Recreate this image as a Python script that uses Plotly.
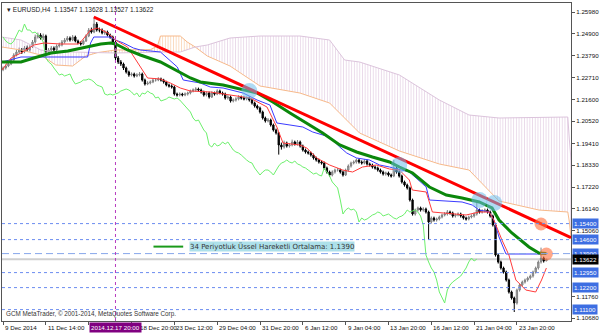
import plotly.graph_objects as go

# ---------------- data (EURUSD H4) ----------------
close = [1.2318,1.2328,1.2338,1.2358,1.2383,1.2398,1.2408,1.2398,1.2418,1.2408,
1.2423,1.2448,1.2473,1.2483,1.2468,1.2478,1.2398,1.2408,1.2418,1.2408,
1.2428,1.2433,1.2448,1.2458,1.2468,1.2458,1.2473,1.2453,1.2443,1.2438,
1.2453,1.2478,1.2508,1.2498,1.2538,1.2508,1.2508,1.2493,1.2498,1.2483,
1.2473,1.2448,1.2368,1.2348,1.2338,1.2318,1.2298,1.2283,1.2288,1.2278,
1.2283,1.2288,1.2258,1.2238,1.2243,1.2248,1.2258,1.2258,1.2263,1.2258,
1.2248,1.2233,1.2228,1.2223,1.2188,1.2183,1.2188,1.2183,1.2188,1.2193,
1.2203,1.2208,1.2213,1.2208,1.2198,1.2183,1.2193,1.2173,1.2193,1.2188,
1.2203,1.2193,1.2188,1.2168,1.2173,1.2153,1.2158,1.2163,1.2173,1.2168,
1.2163,1.2168,1.2158,1.2143,1.2128,1.2118,1.2098,1.2068,1.2053,1.2058,
1.2033,1.2008,1.1993,1.1933,1.1923,1.1943,1.1928,1.1933,1.1948,1.1938,
1.1948,1.1928,1.1908,1.1898,1.1893,1.1883,1.1868,1.1858,1.1848,1.1843,
1.1818,1.1798,1.1783,1.1798,1.1808,1.1808,1.1798,1.1783,1.1808,1.1828,
1.1843,1.1848,1.1858,1.1848,1.1843,1.1853,1.1838,1.1833,1.1823,1.1818,
1.1808,1.1798,1.1788,1.1793,1.1783,1.1778,1.1818,1.1798,1.1778,1.1748,
1.1733,1.1718,1.1658,1.1588,1.1608,1.1618,1.1608,1.1613,1.1598,1.1548,
1.1568,1.1558,1.1563,1.1573,1.1583,1.1588,1.1598,1.1593,1.1578,1.1583,
1.1588,1.1578,1.1568,1.1563,1.1573,1.1578,1.1588,1.1608,1.1598,1.1603,
1.1608,1.1598,1.1578,1.1533,1.1383,1.1348,1.1318,1.1298,1.1258,1.1198,
1.1168,1.1143,1.1208,1.1233,1.1248,1.1258,1.1268,1.1278,1.1298,1.1318,
1.1348,1.1368,1.1353,1.13622]

high = [1.2326,1.2336,1.2346,1.2366,1.2392,1.2410,1.2420,1.2418,1.2428,1.2430,
1.2432,1.2458,1.2485,1.2495,1.2492,1.2490,1.2485,1.2418,1.2428,1.2426,
1.2436,1.2445,1.2458,1.2468,1.2478,1.2476,1.2483,1.2480,1.2460,1.2452,
1.2460,1.2486,1.2518,1.2520,1.2570,1.2548,1.2520,1.2516,1.2508,1.2505,
1.2490,1.2480,1.2456,1.2378,1.2358,1.2345,1.2325,1.2305,1.2296,1.2295,
1.2292,1.2298,1.2295,1.2265,1.2252,1.2256,1.2266,1.2268,1.2272,1.2270,
1.2264,1.2254,1.2240,1.2236,1.2230,1.2195,1.2196,1.2194,1.2196,1.2200,
1.2210,1.2216,1.2222,1.2220,1.2215,1.2205,1.2200,1.2200,1.2202,1.2200,
1.2212,1.2210,1.2200,1.2195,1.2182,1.2180,1.2166,1.2172,1.2182,1.2180,
1.2176,1.2176,1.2175,1.2165,1.2150,1.2135,1.2125,1.2105,1.2075,1.2068,
1.2065,1.2040,1.2015,1.1998,1.1945,1.1955,1.1950,1.1942,1.1960,1.1955,
1.1958,1.1955,1.1935,1.1915,1.1905,1.1900,1.1890,1.1875,1.1865,1.1856,
1.1850,1.1825,1.1805,1.1806,1.1815,1.1818,1.1815,1.1805,1.1815,1.1836,
1.1850,1.1856,1.1866,1.1865,1.1856,1.1862,1.1860,1.1845,1.1840,1.1830,
1.1825,1.1815,1.1805,1.1800,1.1800,1.1790,1.1858,1.1825,1.1805,1.1785,
1.1755,1.1740,1.1725,1.1665,1.1615,1.1625,1.1625,1.1622,1.1620,1.1605,
1.1576,1.1575,1.1570,1.1580,1.1590,1.1598,1.1608,1.1605,1.1600,1.1590,
1.1596,1.1595,1.1585,1.1575,1.1580,1.1586,1.1596,1.1648,1.1615,1.1612,
1.1616,1.1615,1.1605,1.1585,1.1540,1.1390,1.1355,1.1325,1.1305,1.1265,
1.1205,1.1175,1.1215,1.1240,1.1255,1.1265,1.1275,1.1285,1.1305,1.1325,
1.1356,1.1420,1.1375,1.13628]

low = [1.2302,1.2310,1.2322,1.2332,1.2350,1.2376,1.2390,1.2388,1.2392,1.2400,
1.2400,1.2418,1.2440,1.2465,1.2460,1.2458,1.2390,1.2388,1.2400,1.2398,
1.2402,1.2420,1.2426,1.2440,1.2450,1.2450,1.2452,1.2446,1.2436,1.2430,
1.2432,1.2448,1.2472,1.2490,1.2492,1.2500,1.2496,1.2486,1.2484,1.2476,
1.2464,1.2440,1.2355,1.2338,1.2328,1.2308,1.2290,1.2274,1.2276,1.2270,
1.2272,1.2276,1.2250,1.2230,1.2232,1.2236,1.2242,1.2250,1.2252,1.2250,
1.2240,1.2226,1.2220,1.2215,1.2180,1.2175,1.2176,1.2176,1.2177,1.2180,
1.2186,1.2196,1.2200,1.2200,1.2190,1.2175,1.2176,1.2165,1.2168,1.2180,
1.2182,1.2186,1.2180,1.2160,1.2160,1.2145,1.2146,1.2150,1.2156,1.2160,
1.2156,1.2156,1.2150,1.2135,1.2120,1.2110,1.2090,1.2060,1.2045,1.2046,
1.2025,1.2000,1.1985,1.1885,1.1910,1.1915,1.1920,1.1920,1.1926,1.1930,
1.1930,1.1920,1.1900,1.1890,1.1885,1.1875,1.1860,1.1850,1.1840,1.1835,
1.1810,1.1790,1.1775,1.1776,1.1790,1.1800,1.1790,1.1775,1.1778,1.1800,
1.1820,1.1836,1.1840,1.1840,1.1835,1.1836,1.1830,1.1825,1.1815,1.1810,
1.1800,1.1790,1.1780,1.1780,1.1775,1.1770,1.1772,1.1790,1.1770,1.1740,
1.1725,1.1710,1.1650,1.1580,1.1580,1.1600,1.1600,1.1600,1.1590,1.1460,
1.1540,1.1550,1.1550,1.1556,1.1566,1.1576,1.1580,1.1585,1.1570,1.1570,
1.1576,1.1570,1.1560,1.1555,1.1556,1.1566,1.1570,1.1580,1.1590,1.1590,
1.1596,1.1590,1.1570,1.1525,1.1375,1.1340,1.1310,1.1290,1.1250,1.1190,
1.1160,1.1098,1.1135,1.1200,1.1226,1.1240,1.1250,1.1260,1.1270,1.1290,
1.1310,1.1340,1.1345,1.13527]

first_open = 1.2310
bars = list(range(len(close)))
opens = [first_open] + close[:-1]

# 34 EMA
ema_bar = [-0.4, 6.7, 11.5, 17.9, 24.2, 30.1, 36.5, 40.2, 42, 46.5, 51.3, 58.8, 66.2, 70, 73.7,
           82.2, 94.9, 100.8, 107.2, 113.5, 119.4, 125.8, 132.1, 138, 144.4, 148.1, 153, 159.3,
           165.6, 171.5, 177.9, 182.7, 185.3, 190.1, 196.5, 200.2, 203]
ema_val = [1.2348, 1.2348, 1.2368, 1.2393, 1.2403, 1.2418, 1.2438, 1.2443, 1.2438, 1.2408, 1.2383,
           1.2348, 1.2293, 1.2268, 1.2248, 1.2233, 1.2193, 1.2148, 1.2093, 1.2043, 1.1993, 1.1933,
           1.1898, 1.1873, 1.1848, 1.1823, 1.1793, 1.1723, 1.1683, 1.1668, 1.1648, 1.1618, 1.1558,
           1.1493, 1.1423, 1.1393, 1.1390]

# Ichimoku Tenkan-sen
tenkan_bar = [-0.4, 3.0, 6.7, 11.5, 15.3, 21.6, 27.9, 29.0, 32.7, 35.3, 39.1, 42.0, 46.5, 50.2, 54.0,
              58.8, 62.5, 66.2, 70.0, 77.4, 84.8, 92.3, 98.6, 102.3, 104.6, 110.9, 113.5, 117.2,
              122.0, 126.9, 130.6, 134.3, 139.5, 144.4, 148.1, 151.8, 152.9, 158.1, 160.4, 165.6,
              173.0, 177.9, 181.6, 183.4, 186.4, 189.0, 191.6, 195.3, 199.0, 201.2, 203]
tenkan_val = [1.2308, 1.2368, 1.2393, 1.2433, 1.2443, 1.2438, 1.2438, 1.2448, 1.2508, 1.2518, 1.2493,
              1.2458, 1.2423, 1.2343, 1.2268, 1.2263, 1.2243, 1.2218, 1.2203, 1.2198, 1.2183, 1.2168,
              1.2123, 1.2023, 1.1943, 1.1933, 1.1918, 1.1868, 1.1833, 1.1808, 1.1798, 1.1823, 1.1833,
              1.1813, 1.1808, 1.1758, 1.1708, 1.1698, 1.1598, 1.1593, 1.1583, 1.1598, 1.1598, 1.1558,
              1.1458, 1.1383, 1.1258, 1.1208, 1.1198, 1.1258, 1.1318]

# Ichimoku Kijun-sen
kijun_bar = [-0.4, 6.7, 31.6, 32.7, 33.9, 40.2, 42, 45, 48.7, 51.3, 58.8, 61.4, 65.1, 67.3, 73.7, 77.4,
             82.2, 89.7, 94.9, 99.7, 102.3, 107.2, 112, 115.7, 122, 125.8, 128.4, 132.1, 136.9,
             140.7, 144.4, 151.8, 158.1, 159.3, 171.5, 175.3, 177.9, 181.6, 183.4, 185.3, 187.9, 203]
kijun_val = [1.2348, 1.2373, 1.2373, 1.2443, 1.2473, 1.2473, 1.2458, 1.2443, 1.2418, 1.2408, 1.2398,
             1.2368, 1.2323, 1.2258, 1.2243, 1.2223, 1.2218, 1.2193, 1.2158, 1.2133, 1.2043, 1.2033,
             1.2023, 1.1998, 1.1973, 1.1923, 1.1893, 1.1868, 1.1858, 1.1833, 1.1823, 1.1798, 1.1723,
             1.1658, 1.1648, 1.1633, 1.1608, 1.1598, 1.1558, 1.1473, 1.1388, 1.1388]

# Ichimoku cloud (Senkou Span A / B)
cloud_bar = [-0.4, 6.7, 14.1, 19.7, 26, 30.9, 35.3, 42, 55.1, 57.7, 58.8, 66.2, 68.8, 71.8, 76.3,
             84.8, 96, 110.9, 122, 127.6, 133.2, 148.1, 163, 174.1, 185.3, 200.2, 211, 211.6, 212.2]
span_a = [1.2423, 1.2408, 1.2383, 1.2333, 1.2328, 1.2378, 1.2395, 1.2408, 1.2410, 1.2428, 1.2478,
          1.2478, 1.2448, 1.2423, 1.2378, 1.2328, 1.2228, 1.2193, 1.2143, 1.2068, 1.1993, 1.1903,
          1.1838, 1.1808, 1.1653, 1.1608, 1.1598, 1.1548, 1.1468]
span_b = [1.2473, 1.2458, 1.2408, 1.2398, 1.2398, 1.2398, 1.2395, 1.2393, 1.2398, 1.2398, 1.2398,
          1.2398, 1.2408, 1.2423, 1.2433, 1.2468, 1.2478, 1.2478, 1.2458, 1.2358, 1.2348, 1.2283,
          1.2158, 1.2083, 1.2068, 1.2073, 1.2073, 1.1958, 1.1858]

# trend line
trend_bar = [33.9, 212.2]
trend_val = [1.2573, 1.1470]

# marked points
blue_mark_bar = [92, 148, 178, 183.5]
blue_mark_val = [1.2203, 1.1833, 1.1658, 1.1643]
orange_mark_bar = [201, 203]
orange_mark_val = [1.1538, 1.1388]

# horizontal levels
dotted_levels = [1.1540, 1.1460, 1.1295, 1.1220, 1.1110]
ema_level = 1.1390
last_price = 1.13622
vline_bar = 42

# axis labels (16 Dec 04:00 label is hidden under the cursor box in the reference)
ytick_vals = [1.2598, 1.2490, 1.2379, 1.2271, 1.2160, 1.2052, 1.1941, 1.1833, 1.1722, 1.1614, 1.1506, 1.1176, 1.1068]
xtick_bars = [0, 16, 32, 48, 64, 80, 96, 112, 128, 144, 160, 176, 192]
xtick_text = ["9 Dec 2014", "11 Dec 14:00", "", "18 Dec 20:00", "23 Dec 12:00", "29 Dec 04:00",
              "31 Dec 20:00", "6 Jan 12:00", "9 Jan 04:00", "13 Jan 20:00", "16 Jan 12:00",
              "21 Jan 04:00", "23 Jan 20:00"]

# ---------------- figure ----------------
FONT = "Liberation Sans"
fig = go.Figure()

# cloud: split into segments by which span is on top
segments = []
cur, cur_sign = [], None
for i in range(len(cloud_bar)):
    d = span_a[i] - span_b[i]
    sg = 0 if abs(d) < 1e-9 else (1 if d > 0 else -1)
    if sg == 0:
        cur.append(i)
        if cur_sign is not None:
            segments.append((cur_sign, cur))
        cur, cur_sign = [i], None
    elif cur_sign is None or sg == cur_sign:
        cur_sign = sg
        cur.append(i)
    else:
        segments.append((cur_sign, cur))
        cur, cur_sign = [i], sg
if cur_sign is not None:
    segments.append((cur_sign, cur))

for sg, idx in segments:
    col = "rgba(244,164,96,0.85)" if sg > 0 else "rgba(200,160,200,0.8)"
    xs = [cloud_bar[i] for i in idx]
    fig.add_trace(go.Scatter(x=xs, y=[span_b[i] for i in idx], mode="lines",
                             line=dict(width=0), hoverinfo="skip"))
    fig.add_trace(go.Scatter(x=xs, y=[span_a[i] for i in idx], mode="lines",
                             line=dict(width=0), fill="tonexty", fillcolor="rgba(0,0,0,0)",
                             fillpattern=dict(shape="|", fgcolor=col, bgcolor="rgba(0,0,0,0)",
                                              size=2.7, solidity=0.35),
                             hoverinfo="skip"))
fig.add_trace(go.Scatter(x=cloud_bar, y=span_a, mode="lines", line=dict(color="#f7b98a", width=1)))
fig.add_trace(go.Scatter(x=cloud_bar, y=span_b, mode="lines", line=dict(color="#dcc4dc", width=1)))

# chikou span = close shifted back 26 bars
fig.add_trace(go.Scatter(x=bars[:-26], y=close[26:], mode="lines",
                         line=dict(color="#6cf06c", width=1)))
fig.add_trace(go.Scatter(x=kijun_bar, y=kijun_val, mode="lines", line=dict(color="#3b3bff", width=1)))
fig.add_trace(go.Scatter(x=tenkan_bar, y=tenkan_val, mode="lines", line=dict(color="#ff3b3b", width=1)))

fig.add_trace(go.Candlestick(x=bars, open=opens, high=high, low=low, close=close,
                             increasing=dict(line=dict(color="#808080", width=1), fillcolor="#b8b8b8"),
                             decreasing=dict(line=dict(color="#000000", width=1), fillcolor="#000000"),
                             whiskerwidth=0))

fig.add_trace(go.Scatter(x=ema_bar, y=ema_val, mode="lines", line=dict(color="#0b870b", width=3)))
fig.add_trace(go.Scatter(x=trend_bar, y=trend_val, mode="lines", line=dict(color="#ff0000", width=3)))

fig.add_trace(go.Scatter(x=blue_mark_bar, y=blue_mark_val, mode="markers",
                         marker=dict(size=16, color="rgba(110,190,235,0.55)", line=dict(width=0))))
fig.add_trace(go.Scatter(x=orange_mark_bar, y=orange_mark_val, mode="markers",
                         marker=dict(size=13, color="rgba(255,110,60,0.6)", line=dict(width=0))))

# horizontal lines
for lv in dotted_levels:
    fig.add_hline(y=lv, line=dict(color="#6a8cf0", width=1, dash="dot"))
fig.add_hline(y=ema_level, line=dict(color="#86a6ea", width=1, dash="7px,4px"))
fig.add_hline(y=last_price, line=dict(color="#cfcfcf", width=2), layer="below")
fig.add_vline(x=vline_bar, line=dict(color="#b83cc0", width=1, dash="3px,3px"))

# legend-like text
fig.add_shape(type="line", x0=56.2, x1=67.3, y0=1.1425, y1=1.1425, xref="x", yref="y",
              line=dict(color="#1a9a1a", width=2))
fig.add_annotation(x=69.6, y=1.1425, xref="x", yref="y", xanchor="left", yanchor="middle",
                   text="34 Periyotluk Üssel Hareketli Ortalama: 1.1390", showarrow=False,
                   font=dict(family="DejaVu Sans", size=7, color="#333333"),
                   bgcolor="#ade0ea", borderpad=0)

# header & footer text
fig.add_annotation(x=0, y=1, xref="paper", yref="paper", xanchor="left", yanchor="top",
                   xshift=3, yshift=-1, showarrow=False,
                   text="▾ EURUSD,H4  1.13547 1.13628 1.13527 1.13622",
                   font=dict(family=FONT, size=6.5, color="#222222"))
fig.add_annotation(x=0, y=0, xref="paper", yref="paper", xanchor="left", yanchor="bottom",
                   xshift=2, yshift=1, showarrow=False,
                   text="GCM MetaTrader, © 2001-2014, MetaQuotes Software Corp.",
                   font=dict(family=FONT, size=6.3, color="#333333"))

# x labels (left aligned at tick)
for b, t in zip(xtick_bars, xtick_text):
    if not t:
        continue
    shift = 6 if b == 48 else 0
    fig.add_annotation(x=b, y=0, xref="x", yref="paper", xanchor="left", yanchor="top",
                       yshift=-1, xshift=shift, showarrow=False, text=t,
                       font=dict(family=FONT, size=6.2, color="#111111"))
fig.add_annotation(x=vline_bar, y=0, xref="x", yref="paper", xanchor="center", yanchor="top",
                   yshift=-1, showarrow=False, text="2014.12.17 20:00",
                   font=dict(family=FONT, size=6.2, color="white"), bgcolor="#800080", borderpad=1)

# price boxes on the right
for lv in dotted_levels + [ema_level]:
    fig.add_annotation(x=1, y=lv, xref="paper", yref="y", xanchor="left", yanchor="middle",
                       xshift=1, showarrow=False, text=f"{lv:.5f}",
                       font=dict(family=FONT, size=6.2, color="white"), bgcolor="#3d6ee2", borderpad=1)
fig.add_annotation(x=1, y=last_price, xref="paper", yref="y", xanchor="left", yanchor="middle",
                   xshift=1, showarrow=False, text=f"{last_price:.5f}",
                   font=dict(family=FONT, size=6.2, color="white"), bgcolor="#000000", borderpad=1)

fig.update_layout(width=600, height=333, margin=dict(l=1, r=28, t=3, b=12),
                  paper_bgcolor="white", plot_bgcolor="white", showlegend=False)
fig.update_xaxes(range=[-0.4, 212.2], showgrid=False, zeroline=False, showline=True,
                 linecolor="#555555", linewidth=1, mirror=True, tickvals=xtick_bars,
                 ticks="outside", ticklen=3, tickcolor="#555555", showticklabels=False,
                 rangeslider=dict(visible=False))
fig.update_yaxes(range=[1.1053, 1.2643], side="right", showgrid=False, zeroline=False,
                 showline=True, linecolor="#555555", linewidth=1, mirror=True,
                 tickvals=ytick_vals, ticktext=[f"{v:.5f}" for v in ytick_vals],
                 ticks="outside", ticklen=3, tickcolor="#555555",
                 tickfont=dict(family=FONT, size=6.2, color="#111111"))

fig.write_html("out.html")
